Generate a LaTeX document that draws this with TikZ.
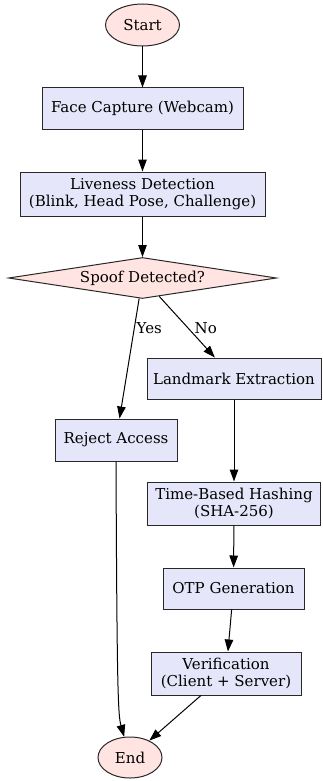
\documentclass[tikz,border=0pt]{standalone}
\usepackage{fontspec}
\setmainfont{DejaVu Serif}
\usetikzlibrary{shapes.geometric, arrows.meta, positioning}
\definecolor{termpink}{RGB}{255,228,225}
\definecolor{steplavender}{RGB}{230,230,250}
\definecolor{edgegrey}{RGB}{40,40,40}

\begin{document}
\begin{tikzpicture}[x=1pt, y=-1pt,
    font=\fontsize{15}{17.5}\selectfont,
    terminal/.style={ellipse, draw=edgegrey, fill=termpink, line width=1pt, inner sep=0pt},
    process/.style={rectangle, draw=edgegrey, fill=steplavender, line width=1pt, align=center, inner sep=0pt},
    decision/.style={diamond, draw=edgegrey, fill=termpink, line width=1pt, aspect=6.5, inner sep=0pt},
    flow/.style={-{Triangle[length=12pt, width=8.5pt]}, line width=1pt, draw=black}]
    \useasboundingbox (0,0) rectangle (322,781);

    % Capture and liveness
    \node[terminal, minimum width=74, minimum height=42] (start) at (142.5,25) {Start};
    \node[process, minimum width=201, minimum height=41] (capture) at (142.5,108.5) {Face Capture (Webcam)};
    \node[process, minimum width=245, minimum height=44] (liveness) at (142.5,194) {Liveness Detection\\(Blink, Head Pose, Challenge)};
    \node[decision, minimum width=268, minimum height=41] (spoof) at (142.5,278) {Spoof Detected?};

    % Branches
    \node[process, minimum width=122, minimum height=42] (reject) at (116,440) {Reject Access};
    \node[process, minimum width=174, minimum height=41] (landmark) at (234,378.5) {Landmark Extraction};
    \node[process, minimum width=173, minimum height=43] (hashing) at (234,503.5) {Time-Based Hashing\\(SHA-256)};
    \node[process, minimum width=141, minimum height=41] (otp) at (233.5,588.5) {OTP Generation};
    \node[process, minimum width=150, minimum height=43] (verify) at (226,673.5) {Verification\\(Client + Server)};
    \node[terminal, minimum width=64, minimum height=41] (end) at (130,757.5) {End};

    % Edges
    \draw[flow] (start) -- (capture);
    \draw[flow] (capture) -- (liveness);
    \draw[flow] (liveness) -- (spoof);
    \draw[flow] (spoof) -- node[pos=0.25, right, inner sep=2pt] {Yes} (reject);
    \draw[flow] (spoof) -- node[pos=0.52, right=6pt, inner sep=0pt] {No} (landmark);
    \draw[flow] (landmark) -- (hashing);
    \draw[flow] (hashing) -- (otp);
    \draw[flow] (otp) -- (verify);
    \draw[flow] (verify) -- (end);
    \draw[flow] (reject.south) .. controls (117,690) and (118,715) .. (end);
\end{tikzpicture}
\end{document}
